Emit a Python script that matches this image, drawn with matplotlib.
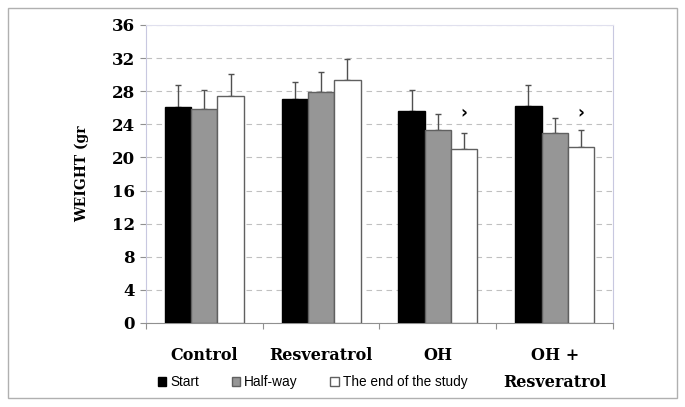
import matplotlib.pyplot as plt
from matplotlib.patches import Rectangle
import numpy as np

groups = ["Control", "Resveratrol", "OH", "OH +\nResveratrol"]
series = ["Start", "Half-way", "The end of the study"]
start = [26.1, 27.1, 25.6, 26.2]
halfway = [25.8, 27.9, 23.3, 22.9]
end = [27.4, 29.3, 21.0, 21.3]
start_err = [2.7, 2.0, 2.5, 2.5]
halfway_err = [2.4, 2.4, 2.0, 1.9]
end_err = [2.7, 2.6, 2.0, 2.0]
# groups where the end value is marked as significant
marked = [2, 3]
mark_y = 25.3

fig = plt.figure(figsize=(6.85, 4.07), dpi=100)
fig.patches.append(Rectangle((0.012, 0.022), 0.976, 0.958, transform=fig.transFigure,
                             fill=False, edgecolor='#b0b0b0', linewidth=1.0))
ax = fig.add_axes([0.213, 0.2064, 0.682, 0.7322])

x = np.arange(len(groups))
w = 0.225
valeurs = [start, halfway, end]
erreurs = [start_err, halfway_err, end_err]
couleurs = ['black', '#969696', 'white']
bords = ['black', '#606060', '#606060']
for i in range(3):
    pos = x + (i - 1) * w
    ax.bar(pos, valeurs[i], w, color=couleurs[i], edgecolor=bords[i], linewidth=1.0,
           label=series[i], zorder=3)
    ax.errorbar(pos, valeurs[i], yerr=[np.zeros(4), erreurs[i]], fmt='none',
                ecolor='#505050', elinewidth=1.0, capsize=2.5, capthick=1.0, zorder=2)

for g in marked:
    ax.text(x[g] + w, mark_y, "›", ha='center', va='center', fontsize=12,
            fontweight='bold', color='black', family='DejaVu Sans')

ax.set_xlim(-0.5, 3.5)
ax.set_ylim(0, 36)
ax.set_yticks(range(0, 37, 4))
ax.set_yticklabels([str(v) for v in range(0, 37, 4)], fontsize=12, fontweight='bold',
                   family='DejaVu Serif')
ax.yaxis.grid(True, linestyle=(0, (5, 4)), color='#c0c0c0', linewidth=0.8)
ax.set_axisbelow(True)

ax.set_xticks([-0.5, 0.5, 1.5, 2.5, 3.5])
ax.set_xticklabels([])
ax.tick_params(axis='x', length=4, color='#909090', direction='out')
ax.tick_params(axis='y', length=4, color='#909090', direction='out', pad=4)
for k, nom in enumerate(groups):
    ax.text(x[k], -2.9, nom, ha='center', va='top', fontsize=11.5, fontweight='bold',
            family='DejaVu Serif', linespacing=1.8)

for s in ['left', 'right']:
    ax.spines[s].set_color('#c8c8e0')
ax.spines['top'].set_color('#e0e0ee')
ax.spines['bottom'].set_color('#909090')

ax.set_ylabel("WEIGHT (gr", fontsize=10, fontweight='bold', family='DejaVu Serif', labelpad=16)

ax.legend(loc='upper left', bbox_to_anchor=(0.0, -0.135), ncol=3, frameon=False,
          handlelength=0.6, handleheight=0.6, handletextpad=0.3,
          columnspacing=2.4, prop={'family': 'Liberation Sans', 'size': 9.8})

fig.savefig("out.png")
